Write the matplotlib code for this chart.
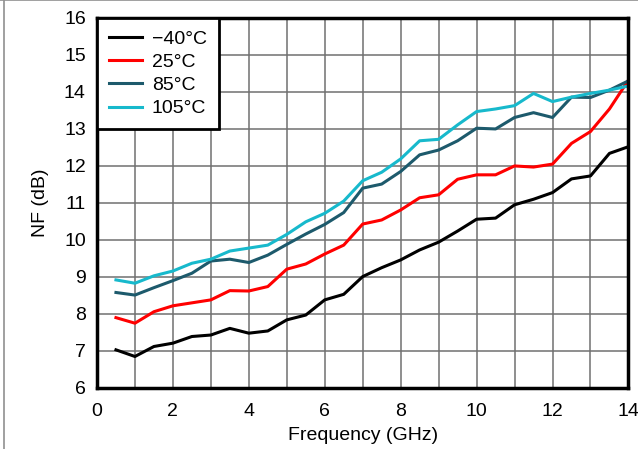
import matplotlib
matplotlib.use("Agg")
import matplotlib.pyplot as plt
from matplotlib.lines import Line2D

plt.rcParams['font.family'] = ['Liberation Sans', 'DejaVu Sans']

# frequency points in GHz
freq = [0.5, 1.0, 1.5, 2.0, 2.5, 3.0, 3.5, 4.0, 4.5, 5.0, 5.5, 6.0, 6.5, 7.0,
        7.5, 8.0, 8.5, 9.0, 9.5, 10.0, 10.5, 11.0, 11.5, 12.0, 12.5, 13.0, 13.5, 14.0]

nf_m40 = [7.03, 6.85, 7.12, 7.21, 7.39, 7.43, 7.61, 7.48, 7.54, 7.84, 7.97, 8.38, 8.53, 9.01,
          9.25, 9.46, 9.73, 9.94, 10.24, 10.56, 10.59, 10.95, 11.10, 11.28, 11.65, 11.73, 12.34, 12.52]
nf_25 = [7.90, 7.75, 8.06, 8.22, 8.30, 8.38, 8.63, 8.62, 8.74, 9.21, 9.35, 9.62, 9.86, 10.43,
         10.54, 10.81, 11.14, 11.22, 11.64, 11.76, 11.76, 12.00, 11.97, 12.05, 12.61, 12.93, 13.54, 14.32]
nf_85 = [8.58, 8.51, 8.71, 8.90, 9.10, 9.43, 9.48, 9.39, 9.59, 9.88, 10.16, 10.42, 10.74, 11.40,
         11.51, 11.85, 12.30, 12.43, 12.68, 13.02, 13.00, 13.31, 13.44, 13.31, 13.86, 13.85, 14.05, 14.30]
nf_105 = [8.92, 8.83, 9.03, 9.16, 9.37, 9.48, 9.70, 9.78, 9.86, 10.15, 10.49, 10.72, 11.05, 11.60,
          11.83, 12.19, 12.68, 12.72, 13.11, 13.47, 13.54, 13.63, 13.96, 13.74, 13.86, 13.96, 14.05, 14.16]

labels = ['\u221240\u00b0C', '25\u00b0C', '85\u00b0C', '105\u00b0C']
colors = ['#000000', '#ff0000', '#1d5a6c', '#17b9cc']

FS = 14

fig = plt.figure(figsize=(6.38, 4.49), dpi=100)
ax = fig.add_axes([0.152, 0.136, 0.833, 0.824])

for y, lab, c in zip([nf_m40, nf_25, nf_85, nf_105], labels, colors):
    ax.plot(freq, y, color=c, lw=2.2, label=lab, zorder=3)

ax.set_xlim(0, 14)
ax.set_ylim(6, 16)
ax.set_xticks(range(0, 15, 2))
ax.set_xticks(range(0, 15, 1), minor=True)
ax.set_yticks(range(6, 17, 1))
ax.grid(True, which='both', color='#707070', lw=1.1, zorder=1)
ax.tick_params(which='both', length=0, labelsize=FS)
ax.tick_params(axis='x', pad=11)
ax.tick_params(axis='y', pad=8)
for s in ax.spines.values():
    s.set_linewidth(2.5)
    s.set_color('black')
    s.set_zorder(4)

ax.set_xlabel('Frequency (GHz)', fontsize=FS, labelpad=5)
ax.set_ylabel('NF (dB)', fontsize=FS, labelpad=11)

leg = ax.legend(loc='upper left', fontsize=FS, frameon=True, fancybox=False,
                borderaxespad=0, handlelength=1.7, handletextpad=0.5,
                labelspacing=0.29, borderpad=0.62)
leg.get_frame().set_edgecolor('black')
leg.get_frame().set_linewidth(2.0)
leg.get_frame().set_alpha(1)
leg.set_zorder(5)

# thin gray frame at the left and top edges of the image
fig.add_artist(Line2D([0.007, 0.007], [0, 1], color='#909090', lw=1.2))
fig.add_artist(Line2D([0, 1], [0.999, 0.999], color='#909090', lw=1.2))

fig.savefig('out.png', dpi=100)
